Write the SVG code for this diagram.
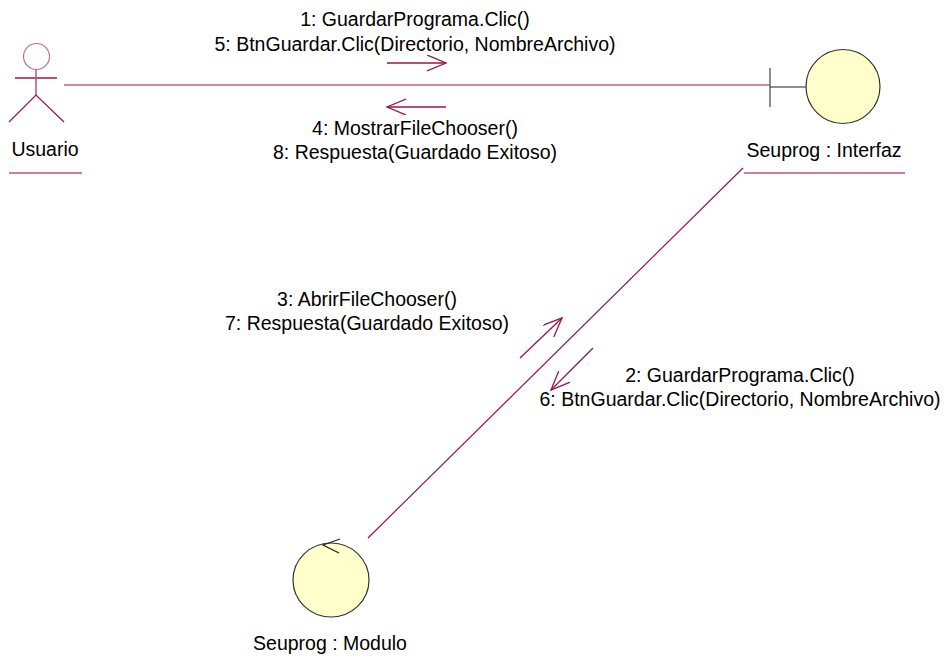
<svg xmlns="http://www.w3.org/2000/svg" width="948" height="660" viewBox="0 0 948 660">
  <style>
    text { font-family: "Liberation Sans", Arial, sans-serif; font-size: 19.5px; fill: #000; }
    .mid { text-anchor: middle; }
    .link { stroke: #9b1447; stroke-width: 1.2; fill: none; }
    .msg { stroke: #9b1447; stroke-width: 1.3; fill: none; marker-end: url(#open); }
    .uline { stroke: #b8567c; stroke-width: 1.5; }
    .obj { fill: #ffffcc; stroke: #333; stroke-width: 1.2; }
  </style>
  <defs>
    <marker id="open" markerUnits="userSpaceOnUse" markerWidth="24" markerHeight="20" refX="19" refY="8" orient="auto">
      <polyline points="0,0 19,8 0,16" fill="none" stroke="#9b1447" stroke-width="1.3"/>
    </marker>
  </defs>

  <!-- links between objects -->
  <g id="connectors">
    <line class="link" x1="64" y1="85" x2="770" y2="85"/>
    <line class="link" x1="743" y1="168" x2="368" y2="538"/>
    <!-- messages -->
    <line class="msg" x1="387" y1="63" x2="446" y2="63"/>
    <line class="msg" x1="446" y1="107" x2="387" y2="107"/>
    <line class="msg" x1="520" y1="358" x2="562" y2="318"/>
    <line class="msg" x1="593" y1="348" x2="551" y2="390"/>
    <text class="mid" x="415" y="26">1: GuardarPrograma.Clic()</text>
    <text class="mid" x="415" y="51">5: BtnGuardar.Clic(Directorio, NombreArchivo)</text>
    <text class="mid" x="415" y="135">4: MostrarFileChooser()</text>
    <text class="mid" x="415" y="159">8: Respuesta(Guardado Exitoso)</text>
    <text class="mid" x="367" y="306">3: AbrirFileChooser()</text>
    <text class="mid" x="367" y="330">7: Respuesta(Guardado Exitoso)</text>
    <text class="mid" x="740" y="382">2: GuardarPrograma.Clic()</text>
    <text class="mid" x="740" y="406">6: BtnGuardar.Clic(Directorio, NombreArchivo)</text>
  </g>

  <!-- actor -->
  <g id="usuario">
    <circle cx="36.5" cy="56.5" r="13" fill="none" stroke="#c0708f" stroke-width="1.2"/>
    <line x1="15" y1="78" x2="57" y2="78" stroke="#9b1447" stroke-width="1.3"/>
    <line x1="36" y1="69.5" x2="36" y2="95" stroke="#b8567c" stroke-width="1.5"/>
    <polyline points="9,122 36,95 64,122" fill="none" stroke="#9b1447" stroke-width="1.2"/>
    <text class="mid" x="45" y="156">Usuario</text>
    <line class="uline" x1="9" y1="173" x2="82" y2="173"/>
  </g>

  <!-- boundary object -->
  <g id="interfaz">
    <line x1="770" y1="68" x2="770" y2="107" stroke="#666" stroke-width="1.5"/>
    <line x1="770" y1="87" x2="806" y2="87" stroke="#222" stroke-width="1.2"/>
    <circle class="obj" cx="843" cy="86.5" r="37"/>
    <text class="mid" x="824" y="157">Seuprog : Interfaz</text>
    <line class="uline" x1="744" y1="173" x2="905" y2="173"/>
  </g>

  <!-- control object -->
  <g id="modulo">
    <ellipse class="obj" cx="331" cy="580" rx="38" ry="37"/>
    <polyline points="340,539 323,545 339,553" fill="none" stroke="#222" stroke-width="1.2"/>
    <text class="mid" x="330" y="650">Seuprog : Modulo</text>
  </g>
</svg>
